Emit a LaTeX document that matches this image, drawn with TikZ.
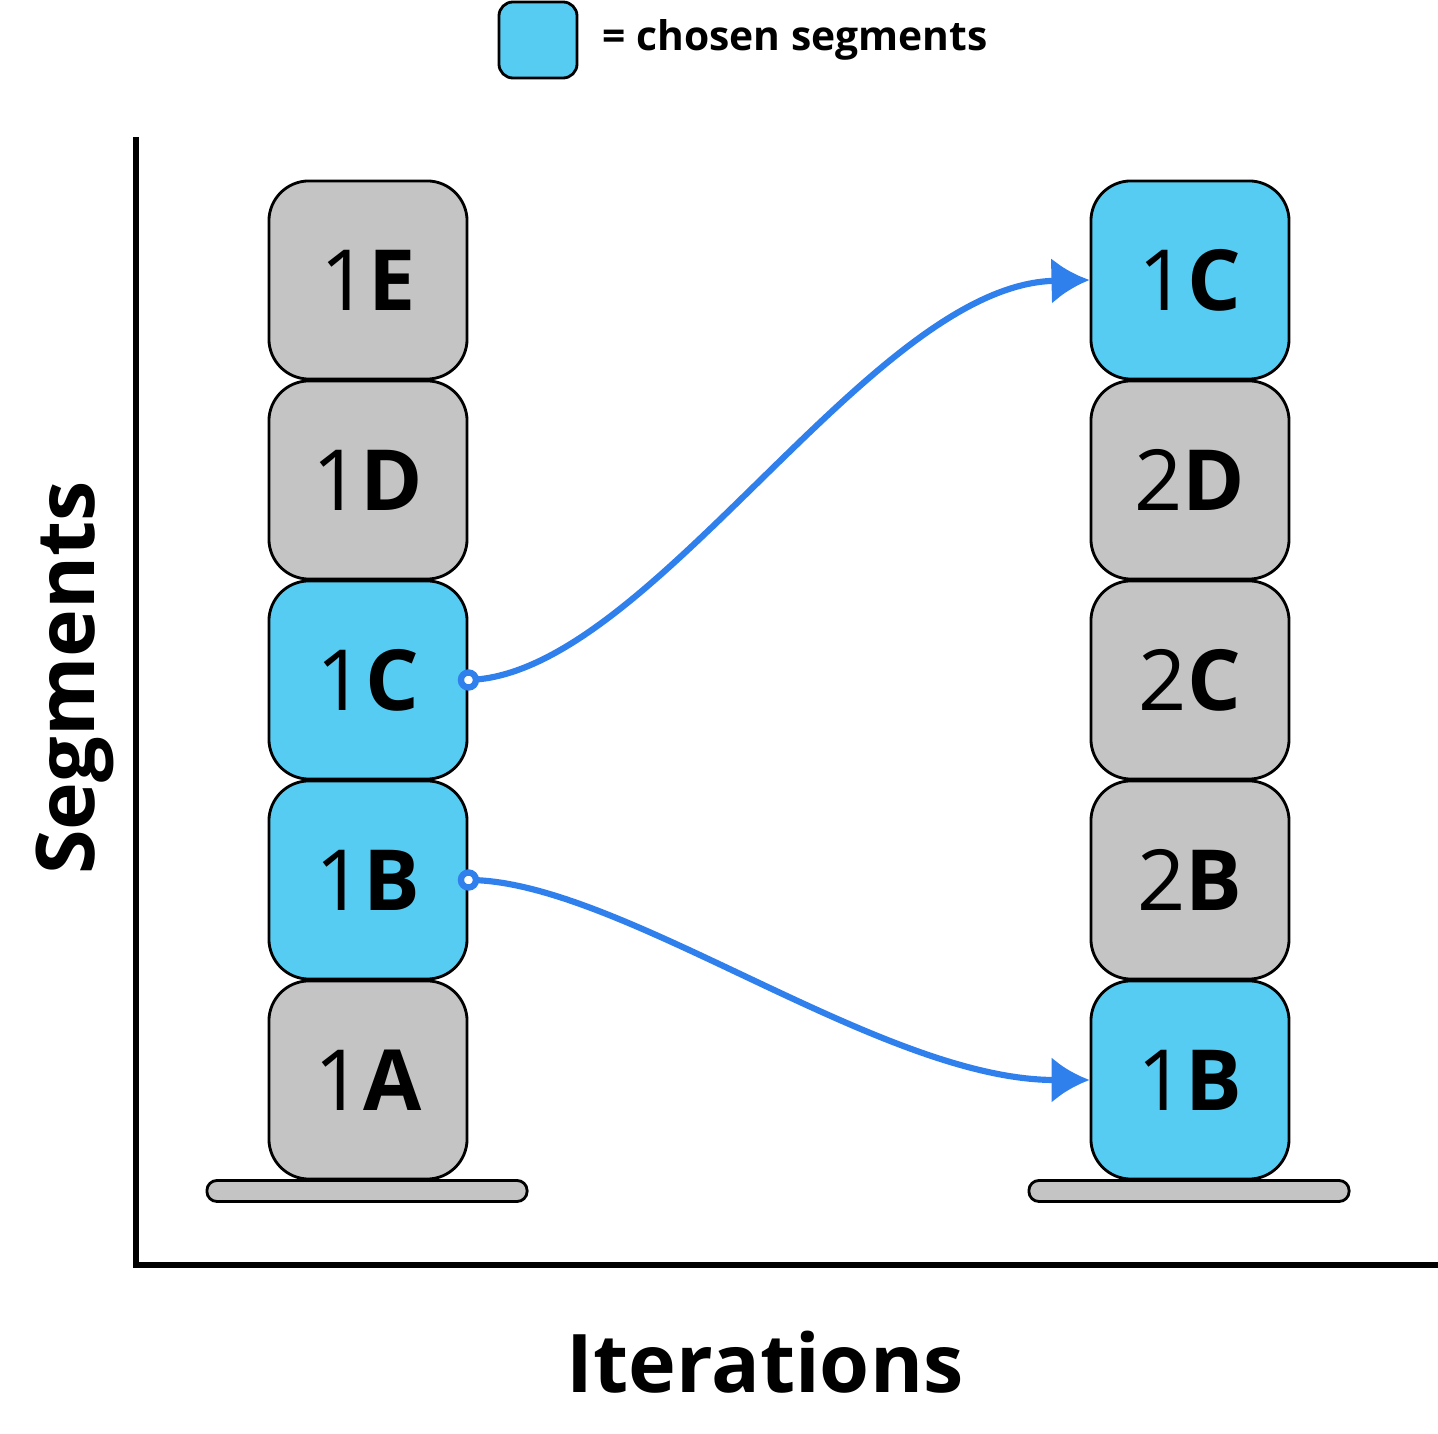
\documentclass[tikz,border=0pt]{standalone}
\usepackage{fontspec}
\setmainfont{Open Sans}
\usetikzlibrary{arrows.meta,positioning}

\definecolor{segGray}{HTML}{C4C4C4}
\definecolor{segBlue}{HTML}{56CCF2}
\definecolor{arrBlue}{HTML}{2F80ED}

\begin{document}
\begin{tikzpicture}[
  x=0.01cm, y=-0.01cm,
  seg/.style={
    rectangle, draw, line width=0.8pt, rounded corners=0.4cm, fill=segGray,
    minimum width=1.98cm, minimum height=1.98cm,
    align=center, font=\fontsize{24}{28}\selectfont},
  chosen/.style={seg, fill=segBlue},
  base/.style={
    rectangle, draw, line width=0.8pt, rounded corners=0.1cm, fill=segGray,
    minimum width=3.2cm, minimum height=0.21cm, inner sep=0pt},
  axis/.style={line width=1.45pt},
  arr/.style={arrBlue, line width=1.75pt, -{Latex[length=0.38cm, width=0.46cm]}},
  dot/.style={circle, draw=arrBlue, fill=white, line width=1.8pt,
    minimum size=0.15cm, inner sep=0pt},
  ttl/.style={font=\fontsize{23}{28}\selectfont\bfseries},
]

\useasboundingbox (0,0) rectangle (1438,1434);

%% ---- Legend ----
\node[chosen, minimum width=0.78cm, minimum height=0.76cm,
      rounded corners=0.14cm] (legbox) at (538,40) {};
\node[font=\fontsize{11.6}{14}\selectfont\bfseries, anchor=west]
     (legtxt) at (590,40) {= chosen segments};

%% ---- Axes ----
\coordinate (ytop)   at (136,137);
\coordinate (origin) at (136,1265);
\coordinate (xend)   at (1438,1265);
\draw[axis] (ytop) -- (origin) -- (xend);

\node[ttl, rotate=90] (ylab) at (75,678)  {Segments};
\node[ttl]            (xlab) at (765,1362) {Iterations};

%% ---- First iteration ----
\node[seg]    (a1) at (368,1080) {1\textbf{A}};
\node[chosen] (b1) at (368,880)  {1\textbf{B}};
\node[chosen] (c1) at (368,680)  {1\textbf{C}};
\node[seg]    (d1) at (368,480)  {1\textbf{D}};
\node[seg]    (e1) at (368,280)  {1\textbf{E}};
\node[base]   (base1) at (367,1191) {};

%% ---- Second iteration ----
\node[chosen] (b2) at (1190,1080) {1\textbf{B}};
\node[seg]    (c2) at (1190,880)  {2\textbf{B}};
\node[seg]    (d2) at (1190,680)  {2\textbf{C}};
\node[seg]    (e2) at (1190,480)  {2\textbf{D}};
\node[chosen] (f2) at (1190,280)  {1\textbf{C}};
\node[base]   (base2) at (1189,1191) {};

%% ---- Carried-over segments ----
\draw[arr] (c1.east) .. controls (650,675) and (870,285) .. (f2.west);
\draw[arr] (b1.east) .. controls (620,880) and (880,1080) .. (b2.west);
\node[dot] at (c1.east) {};
\node[dot] at (b1.east) {};

\end{tikzpicture}
\end{document}
